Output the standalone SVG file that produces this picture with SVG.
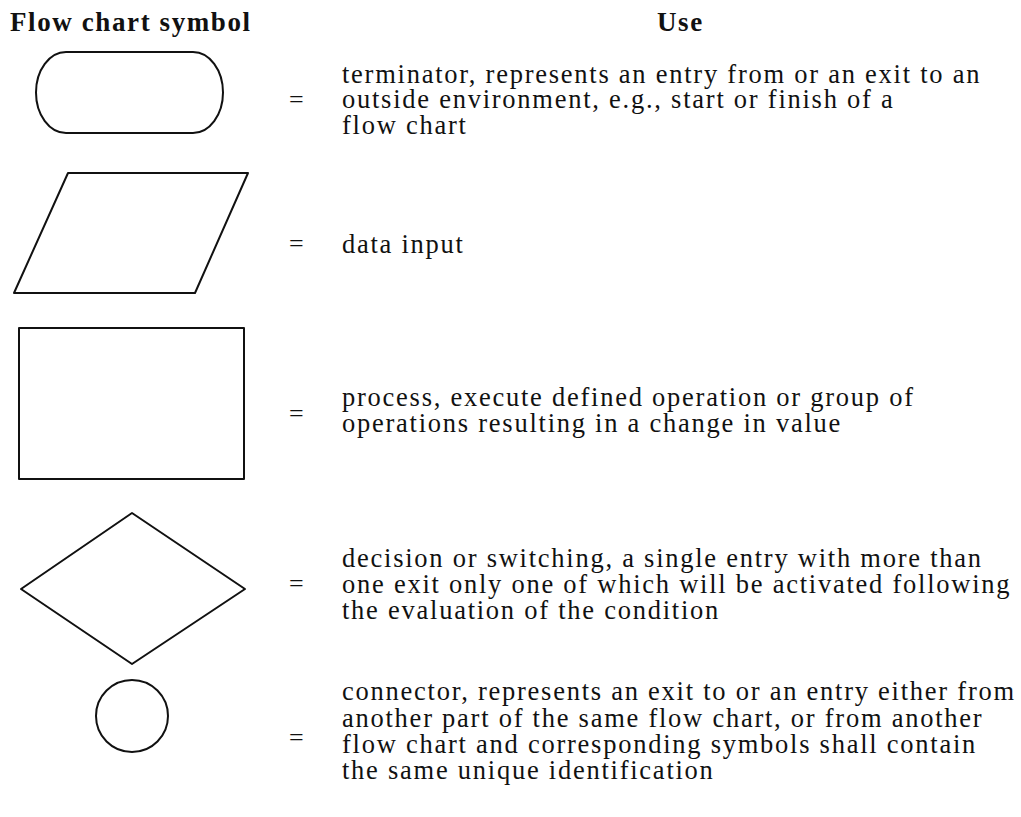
<svg xmlns="http://www.w3.org/2000/svg" width="1021" height="817" viewBox="0 0 1021 817">
<style>
.shape{fill:none;stroke:#111;stroke-width:2;stroke-linejoin:round}
.hd{font-family:"Liberation Serif","Times New Roman",serif;font-weight:bold;font-size:27px;letter-spacing:1.6px;fill:#111}
.tx{font-family:"Liberation Serif","Times New Roman",serif;font-size:26.5px;letter-spacing:1.75px;fill:#111}
.eq{font-family:"Liberation Serif","Times New Roman",serif;font-size:26px;fill:#111}
</style>
<rect width="1021" height="817" fill="#fff"/>
<g id="header">
<text class="hd" x="10" y="31">Flow chart symbol</text>
<text class="hd" x="657" y="31">Use</text>
</g>
<g id="terminator">
<path class="shape" d="M66,52 H193 A30,40.5 0 0 1 193,133 H66 A30,40.5 0 0 1 66,52 Z"/>
<text class="eq" x="289" y="108">=</text>
<text class="tx" x="342" y="83">terminator, represents an entry from or an exit to an</text>
<text class="tx" x="342" y="108">outside environment, e.g., start or finish of a</text>
<text class="tx" x="342" y="134">flow chart</text>
</g>
<g id="data-input">
<polygon class="shape" points="68,173 248,173 195,293 14,293"/>
<text class="eq" x="289" y="252">=</text>
<text class="tx" x="342" y="253">data input</text>
</g>
<g id="process">
<rect class="shape" x="19" y="328" width="225" height="151"/>
<text class="eq" x="289" y="422">=</text>
<text class="tx" x="342" y="406">process, execute defined operation or group of</text>
<text class="tx" x="342" y="432">operations resulting in a change in value</text>
</g>
<g id="decision">
<polygon class="shape" points="132,513 245,589 132,664 21,589"/>
<text class="eq" x="289" y="592">=</text>
<text class="tx" x="342" y="567">decision or switching, a single entry with more than</text>
<text class="tx" x="342" y="593">one exit only one of which will be activated following</text>
<text class="tx" x="342" y="619">the evaluation of the condition</text>
</g>
<g id="connector">
<circle class="shape" cx="132" cy="716" r="36"/>
<text class="eq" x="289" y="746">=</text>
<text class="tx" x="342" y="700">connector, represents an exit to or an entry either from</text>
<text class="tx" x="342" y="727">another part of the same flow chart, or from another</text>
<text class="tx" x="342" y="753">flow chart and corresponding symbols shall contain</text>
<text class="tx" x="342" y="779">the same unique identification</text>
</g>
<g id="connectors"/>
</svg>
